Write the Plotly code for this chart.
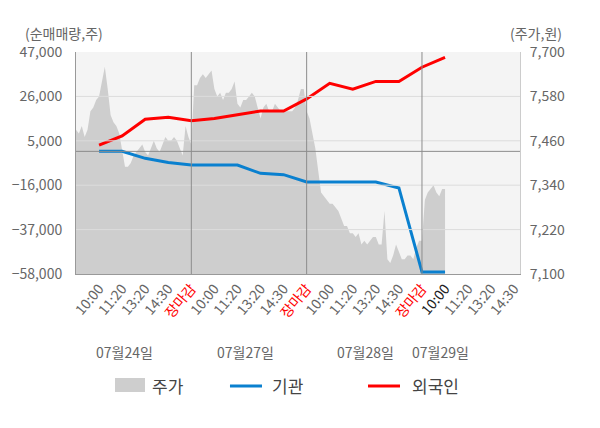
import numpy as np
import plotly.graph_objects as go

FONT = "Noto Sans CJK KR"

# x-axis tick labels (5 per trading day, last day partial)
tick_text = ["10:00", "11:20", "13:20", "14:30", "장마감"] * 3 + ["10:00", "11:20", "13:20", "14:30"]
dates = ["07월24일", "07월27일", "07월28일", "07월29일"]
date_pos = [2.12, 7.33, 12.53, 15.8]

# 주가 (원) - 8 samples per tick step
price = [
    7490, 7480, 7500, 7470, 7490, 7540, 7550, 7570, 7580, 7620,
    7660, 7600, 7530, 7510, 7500, 7480, 7430, 7390, 7390, 7400,
    7420, 7430, 7440, 7450, 7430, 7420, 7440, 7460, 7440, 7430,
    7450, 7470, 7460, 7460, 7470, 7460, 7440, 7420, 7500, 7470,
    7450,
    7610, 7610, 7630, 7640, 7630, 7640, 7650, 7600, 7580, 7590,
    7570, 7590, 7590, 7600, 7620, 7560, 7550, 7570, 7570, 7580,
    7590, 7580, 7550, 7520, 7550, 7560, 7540, 7540, 7560, 7550,
    7540, 7540, 7540, 7540, 7540, 7550, 7570, 7600, 7600, 7540,
    7520, 7480, 7440, 7380, 7320, 7310, 7300, 7290, 7290, 7280,
    7270, 7250, 7230, 7230, 7210, 7210, 7200, 7210, 7180, 7190,
    7180, 7190, 7200, 7200, 7180, 7180, 7270, 7140, 7130, 7150,
    7180, 7160, 7140, 7140, 7150, 7150, 7140, 7170, 7190, 7190,
    7300, 7320, 7330, 7340, 7320, 7310, 7330, 7330,
]

# 순매매량 (주), one value per tick from the first 10:00
inst = [0, 0, -3300, -5300, -6450, -6450, -6450, -10400, -11000, -14500,
        -14500, -14500, -14500, -17300, -57000, -57000]
foreign = [3000, 7300, 15200, 16100, 14500, 15600, 17300, 19100, 19100, 24800,
           32200, 29400, 33100, 33000, 39800, 44500]

price_x = np.arange(len(price)) / 8
flow_x = np.arange(1, len(inst) + 1)

left_ticks = [-58000, -37000, -16000, 5000, 26000, 47000]
right_ticks = [7100, 7220, 7340, 7460, 7580, 7700]


def tick_label(i, t):
    if t == "장마감":
        return '<span style="color:#ff0000">%s</span>' % t
    if i == 15:
        return '<span style="color:#222222">%s</span>' % t
    return t


ticktext = [tick_label(i, t) for i, t in enumerate(tick_text)]

fig = go.Figure()
fig.add_trace(go.Scatter(x=price_x, y=price, yaxis="y", mode="lines",
                         fill="tozeroy", fillcolor="#cecece",
                         line=dict(width=0, color="#cecece"), name="주가"))
fig.add_trace(go.Scatter(x=flow_x, y=inst, xaxis="x", yaxis="y2", mode="lines",
                         line=dict(color="#0a80cf", width=3), name="기관"))
fig.add_trace(go.Scatter(x=flow_x, y=foreign, xaxis="x", yaxis="y2", mode="lines",
                         line=dict(color="#ff0000", width=3), name="외국인"))

shapes = []
for v in left_ticks[1:-1]:
    shapes.append(dict(type="line", xref="paper", yref="y2", x0=0, x1=1, y0=v, y1=v,
                       line=dict(color="#dcdcdc", width=1), layer="above"))
shapes.append(dict(type="line", xref="paper", yref="y2", x0=0, x1=1, y0=0, y1=0,
                   line=dict(color="#8c8c8c", width=1), layer="above"))
for d in [5, 10, 15]:
    shapes.append(dict(type="line", xref="x", yref="paper", x0=d, x1=d, y0=0, y1=1,
                       line=dict(color="#8c8c8c", width=1), layer="above"))

# legend
shapes.append(dict(type="rect", xref="paper", yref="paper", x0=0.0878, x1=0.1554,
                   y0=-0.5315, y1=-0.4685, fillcolor="#cecece", line=dict(width=0)))
shapes.append(dict(type="line", xref="paper", yref="paper", x0=0.3468, x1=0.4189,
                   y0=-0.5045, y1=-0.5045, line=dict(color="#0a80cf", width=3)))
shapes.append(dict(type="line", xref="paper", yref="paper", x0=0.6577, x1=0.7297,
                   y0=-0.5045, y1=-0.5045, line=dict(color="#ff0000", width=3)))

annotations = [
    dict(text="(순매매량,주)", xref="paper", yref="paper", x=-0.12, y=1.0856,
         xanchor="left", yanchor="middle", showarrow=False,
         font=dict(size=14, color="#666666")),
    dict(text="(주가,원)", xref="paper", yref="paper", x=0.973, y=1.0856,
         xanchor="left", yanchor="middle", showarrow=False,
         font=dict(size=14, color="#666666")),
]
for d, p in zip(dates, date_pos):
    annotations.append(dict(text=d, xref="x", yref="paper", x=p, y=-0.351,
                            xanchor="center", yanchor="middle", showarrow=False,
                            font=dict(size=14, color="#666666")))
for t, x in [("주가", 0.1667), ("기관", 0.437), ("외국인", 0.752)]:
    annotations.append(dict(text=t, xref="paper", yref="paper", x=x, y=-0.5,
                            xanchor="left", yanchor="middle", showarrow=False,
                            font=dict(size=17, color="#444444")))

# page body adds 8px, so the figure is drawn 8px smaller
fig.update_layout(
    width=592, height=420,
    margin=dict(l=68, r=80, t=44, b=154, autoexpand=False),
    paper_bgcolor="white", plot_bgcolor="#f4f4f4",
    font=dict(family=FONT, size=14, color="#666666"),
    showlegend=False,
    xaxis=dict(range=[0, 19.25], tickvals=list(range(1, 20)), ticktext=ticktext,
               tickangle=-50, tickfont=dict(size=14, color="#666666"),
               showgrid=False, zeroline=False, showline=True, linecolor="#999999",
               ticks="", automargin=False),
    xaxis2=dict(overlaying="x", range=[0, 19.25], tickvals=[0, 5, 10, 15],
                ticks="outside", ticklen=5, tickcolor="#999999",
                showticklabels=False, showgrid=False, zeroline=False,
                showline=False, anchor="y", side="bottom", automargin=False),
    yaxis=dict(side="right", range=[7100, 7700], tickvals=right_ticks,
               tickformat=",", showgrid=False, zeroline=False, showline=True,
               linecolor="#cccccc", ticks="", ticklabelstandoff=6,
               automargin=False),
    yaxis2=dict(overlaying="y", side="left", range=[-58000, 47000],
                tickvals=left_ticks, tickformat=",", showgrid=False,
                zeroline=False, showline=True, linecolor="#999999", ticks="",
                ticklabelstandoff=10, automargin=False),
    shapes=shapes,
    annotations=annotations,
)

fig.write_html("out.html")
